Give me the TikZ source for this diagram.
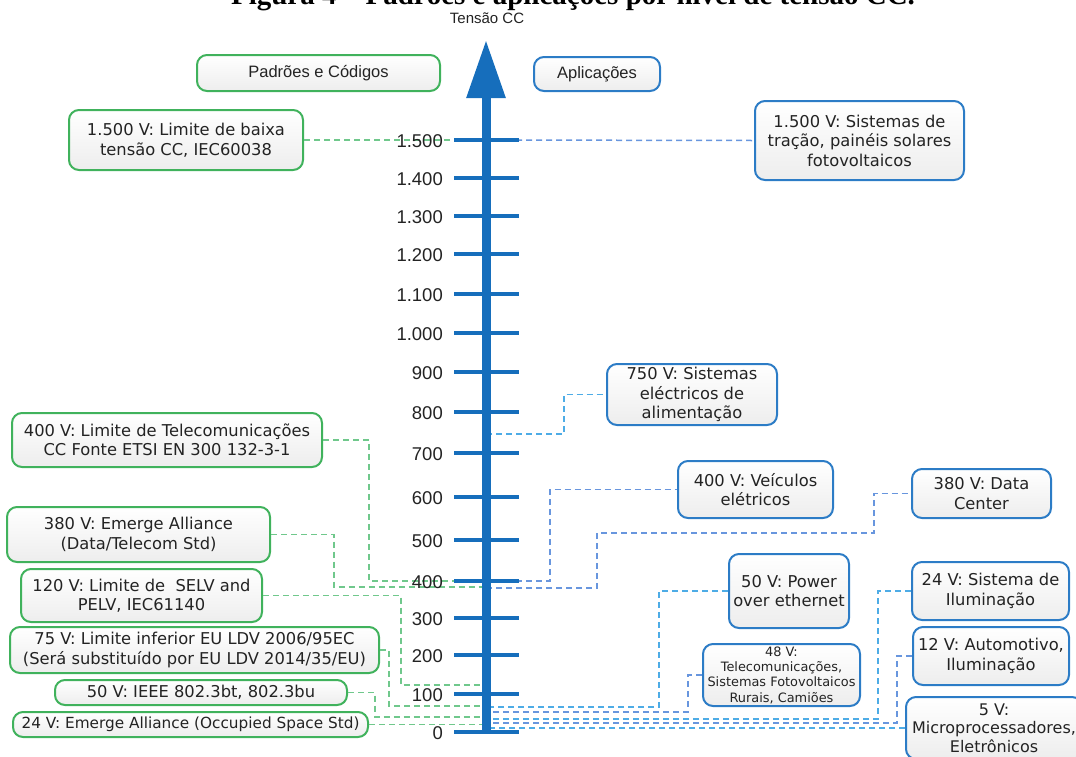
\documentclass[tikz,border=0pt]{standalone}
\usepackage{fontspec}
\setmainfont{Liberation Serif}
\newfontfamily\boxfont{DejaVu Sans}
\newfontfamily\arialfont{Liberation Sans}
\usetikzlibrary{arrows.meta}
\definecolor{gborder}{RGB}{64,178,92}
\definecolor{bborder}{RGB}{44,124,198}
\definecolor{gdashc}{RGB}{112,200,140}
\definecolor{bdashc}{RGB}{104,150,222}
\definecolor{sdashc}{RGB}{78,172,230}
\definecolor{axisblue}{RGB}{22,110,188}
\definecolor{txt}{RGB}{35,35,35}
\begin{document}
\begin{tikzpicture}[x=1pt,y=-1pt,
  boxbase/.style={line width=2pt, rounded corners=10pt, top color=white, bottom color=black!7,
    inner sep=0pt, align=center, text=txt, font=\boxfont\fontsize{16.3}{19.5}\selectfont},
  gbox/.style={boxbase, draw=gborder},
  bbox/.style={boxbase, draw=bborder},
  sz/.style 2 args={minimum width=#1pt, minimum height=#2pt},
  hdrfont/.style={font=\arialfont\fontsize{16.5}{19}\selectfont},
  gdash/.style={draw=gdashc, line width=1.5pt, dash pattern=on 6pt off 4pt},
  bdash/.style={draw=bdashc, line width=1.5pt, dash pattern=on 6pt off 4pt},
  sdash/.style={draw=sdashc, line width=1.5pt, dash pattern=on 6pt off 4pt},
  tickline/.style={draw=axisblue, line width=3.5pt},
  ticklabel/.style={anchor=east, inner sep=0pt, text=txt, font=\arialfont\fontsize{18.5}{20}\selectfont},
]
\useasboundingbox (0,0) rectangle (1076,756);
\clip (0,0) rectangle (1076,756);

% title (cut by the top edge)
\node[anchor=base, inner sep=0pt, font=\bfseries\fontsize{29}{32}\selectfont] (title) at (573,4)
  {Figura 4 -- Padrões e aplicações por nível de tensão CC.};
\node[inner sep=0pt, text=txt, font=\arialfont\fontsize{15}{18}\selectfont] (axtitle) at (487,18) {Tensão CC};

% headers
\node[gbox, sz={243}{36}, hdrfont] (hdrL) at (318.5,73) {Padrões e Códigos};
\node[bbox, sz={126}{34}, hdrfont] (hdrR) at (597,74) {Aplicações};

% left boxes
\node[gbox, sz={234}{60}] (bL1500) at (186,140) {1.500 V: Limite de baixa\\tensão CC, IEC60038};
\node[gbox, sz={310}{54}] (bL400) at (167,440) {400 V: Limite de Telecomunicações\\CC Fonte ETSI EN 300 132-3-1};
\node[gbox, sz={263}{55}] (bL380) at (138.5,534.5) {380 V: Emerge Alliance\\(Data/Telecom Std)};
\node[gbox, sz={241}{53}] (bL120) at (141.5,595.5) {120 V: Limite de\ \ SELV and\\PELV, IEC61140};
\node[gbox, sz={369}{46}] (bL75) at (194.5,650) {75 V: Limite inferior EU LDV 2006/95EC\\(Será substituído por EU LDV 2014/35/EU)};
\node[gbox, sz={292}{25}] (bL50) at (201,692.5) {50 V: IEEE 802.3bt, 802.3bu};
\node[gbox, sz={355}{25}, font=\boxfont\fontsize{15.3}{18}\selectfont] (bL24) at (190.5,724.5) {24 V: Emerge Alliance (Occupied Space Std)};

% right boxes
\node[bbox, sz={209}{79}] (bR1500) at (859.5,140.5) {1.500 V: Sistemas de\\tração, painéis solares\\fotovoltaicos};
\node[bbox, sz={170}{61}] (bR750) at (692,394.5) {750 V: Sistemas\\eléctricos de\\alimentação};
\node[bbox, sz={155}{57}] (bR400) at (755.5,489.5) {400 V: Veículos\\elétricos};
\node[bbox, sz={139}{49}] (bR380) at (981.5,493.5) {380 V: Data\\Center};
\node[bbox, sz={120}{74}] (bRPoE) at (789,591) {50 V: Power\\over ethernet};
\node[bbox, sz={157}{62}, font=\boxfont\fontsize{12.9}{15.3}\selectfont] (bR48) at (781.5,675) {48 V:\\Telecomunicações,\\Sistemas Fotovoltaicos\\Rurais, Camiões};
\node[bbox, sz={157}{58}] (bR24) at (990.5,591) {24 V: Sistema de\\Iluminação};
\node[bbox, sz={156}{58}] (bR12) at (991,656) {12 V: Automotivo,\\Iluminação};
\node[bbox, sz={176}{62}, font=\boxfont\fontsize{16}{18.5}\selectfont] (bR5) at (994,728) {5 V:\\Microprocessadores,\\Eletrônicos};

% axis coordinates
\coordinate (a1500) at (486,140);
\coordinate (aL400) at (486,581);
\coordinate (aL380) at (486,587);
\coordinate (aL120) at (486,685);
\coordinate (aL75) at (486,706);
\coordinate (aL50) at (486,717);
\coordinate (aL24) at (486,724.5);
\coordinate (aR750) at (486,434);
\coordinate (aR400) at (486,581);
\coordinate (aR380) at (486,588);
\coordinate (aRPoE) at (486,707);
\coordinate (aR48) at (486,712);
\coordinate (aR24) at (486,719);
\coordinate (aR12) at (486,723);
\coordinate (aR5) at (486,728);

% left connectors
\draw[gdash] (bL1500.east) -- (a1500);
\draw[gdash] (bL400.east) -- (369,440) |- (aL400);
\draw[gdash] (bL380.east) -- (334,534.5) |- (aL380);
\draw[gdash] (bL120.east) -- (401,595.5) |- (aL120);
\draw[gdash] (bL75.east) -- (389,650) |- (aL75);
\draw[gdash] (bL50.east) -- (375,692.5) |- (aL50);
\draw[gdash] (bL24.east) -- (aL24);

% right connectors
\draw[bdash] (a1500) -- (bR1500.west);
\draw[sdash] (aR750) -- (564,434) |- (bR750.west);
\draw[bdash] (aR400) -- (550,581) |- (bR400.west);
\draw[bdash] (aR380) -- (597,588) -- (597,533) -- (874,533) |- (bR380.west);
\draw[sdash] (bRPoE.west) -- (659,591) |- (aRPoE);
\draw[bdash] (bR48.west) -- (688,675) |- (aR48);
\draw[sdash] (bR24.west) -- (878,591) |- (aR24);
\draw[bdash] (bR12.west) -- (897,656) |- (aR12);
\draw[sdash] (bR5.west) -- (aR5);

% axis
\foreach \v/\y in {1.500/140,1.400/178,1.300/216,1.200/254,1.100/294,1.000/333,900/372,800/412,700/453,600/497,500/540,400/581,300/618,200/655,100/694,0/732}{
  \draw[tickline] (454,\y) -- (519,\y);
  \node[ticklabel] (lab\y) at (443,\y+1.5) {\v};
}
\draw[draw=axisblue, line width=9pt, -{Triangle[length=58pt,width=37pt]}] (486,733.5) -- (486,40);
\end{tikzpicture}
\end{document}
